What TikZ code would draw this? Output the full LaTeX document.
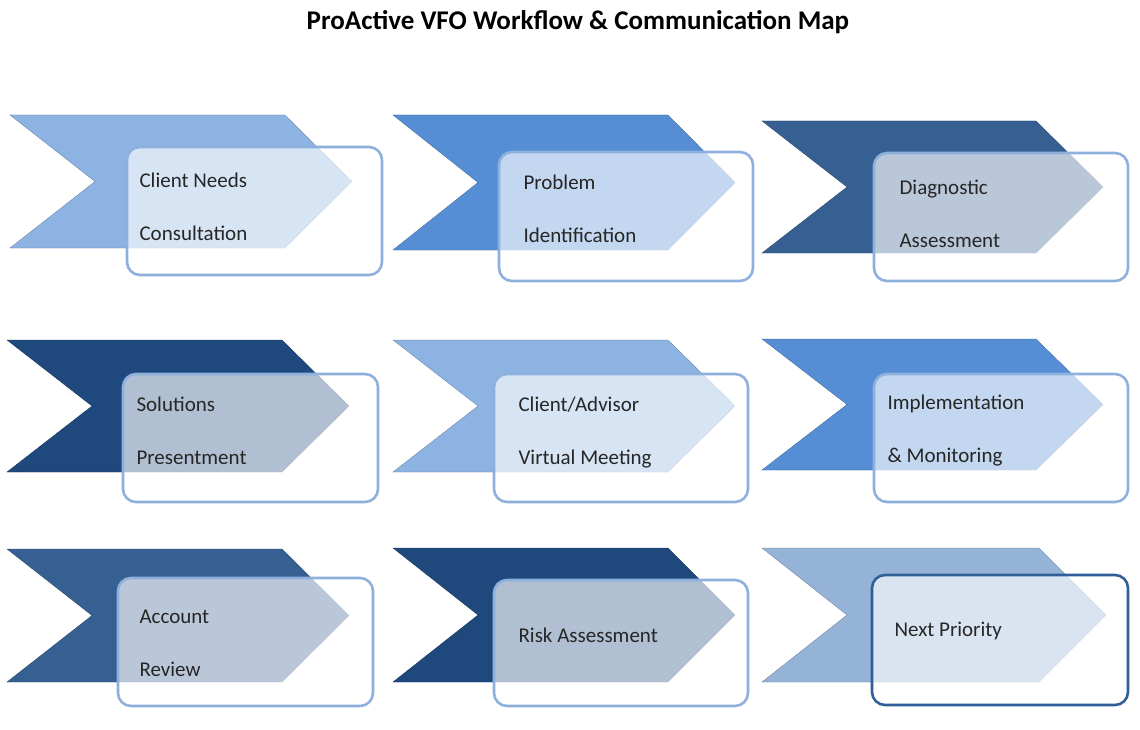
\documentclass[tikz,border=0pt]{standalone}
\usepackage{fontspec}
\setmainfont{Carlito}
\definecolor{cA}{HTML}{8DB3E2}
\definecolor{cB}{HTML}{558ED5}
\definecolor{cC}{HTML}{376092}
\definecolor{cD}{HTML}{1F497D}
\definecolor{cE}{HTML}{95B3D7}
\definecolor{rim}{HTML}{8EB0DC}
\definecolor{rimdark}{HTML}{2F5F98}
\definecolor{txt}{HTML}{262626}
\tikzset{
  x=1pt,y=-1pt,
  boxlabel/.style={font=\fontsize{21}{53}\selectfont,text=txt,align=left,anchor=west},
  overlay box/.style={draw=rim,line width=2.6pt,rounded corners=13pt,fill=white,fill opacity=0.65,draw opacity=1}
}
\newcommand{\chev}[5]{% x0,x1,ytop,ybot,color
  \fill[#5,draw=#5!70!black,line width=0.3pt] (#1,#3) -- (#2-67,#3) -- (#2,{(#3+#4)/2}) -- (#2-67,#4) -- (#1,#4) -- (#1+85,{(#3+#4)/2}) -- cycle;}
\begin{document}
\begin{tikzpicture}
\useasboundingbox (0,0) rectangle (1140,730);
\node[font=\fontsize{27}{30}\selectfont\bfseries] (title) at (578,22) {ProActive VFO Workflow \& Communication Map};
% row 1
\chev{10}{352}{115}{248}{cA}
\draw[overlay box] (127,147) rectangle (382,275);
\node[boxlabel] (t1) at (136,207) {Client Needs\\Consultation};
\chev{393}{735}{115}{250}{cB}
\draw[overlay box] (499,152) rectangle (753,281);
\node[boxlabel] (t2) at (520,209) {Problem\\Identification};
\chev{762}{1103}{121}{253}{cC}
\draw[overlay box] (874,153) rectangle (1128,281);
\node[boxlabel] (t3) at (896,214) {Diagnostic\\Assessment};
% row 2
\chev{7}{349}{340}{472}{cD}
\draw[overlay box] (123,374) rectangle (378,502);
\node[boxlabel] (t4) at (133,431) {Solutions\\Presentment};
\chev{393}{735}{340}{472}{cA}
\draw[overlay box] (494,374) rectangle (748,502);
\node[boxlabel] (t5) at (515,433) {Client/Advisor\\Virtual Meeting};
\chev{762}{1103}{339}{470}{cB}
\draw[overlay box] (874,374) rectangle (1128,502);
\node[boxlabel] (t6) at (884,431) {Implementation\\\& Monitoring};
% row 3
\chev{7}{349}{549}{682}{cC}
\draw[overlay box] (118,578) rectangle (373,706);
\node[boxlabel] (t7) at (136,643) {Account\\Review};
\chev{393}{735}{548}{682}{cD}
\draw[overlay box] (494,580) rectangle (748,706);
\node[boxlabel] (t8) at (515,635) {Risk Assessment};
\chev{762}{1106}{548}{682}{cE}
\draw[overlay box,draw=rimdark] (872,575) rectangle (1128,705);
\node[boxlabel] (t9) at (891,631) {Next Priority};
\end{tikzpicture}
\end{document}
